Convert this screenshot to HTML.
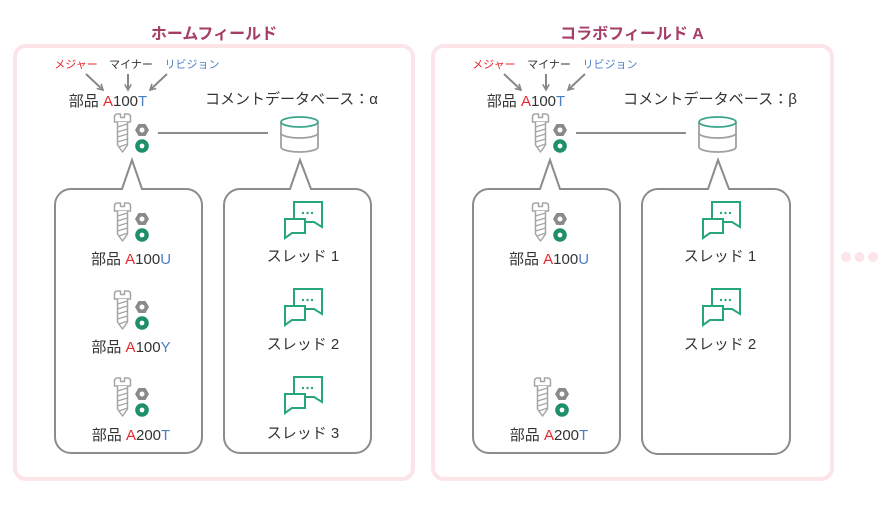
<!DOCTYPE html>
<html><head><meta charset="utf-8"><style>
html,body{margin:0;padding:0;background:#fff;}
svg{display:block;}
text{font-family:"Liberation Sans","Noto Sans CJK JP",sans-serif;}
</style></head><body>
<svg width="891" height="524" viewBox="0 0 891 524" xmlns="http://www.w3.org/2000/svg">
<defs>
  <marker id="ah" viewBox="0 0 10 10" refX="8" refY="5" markerWidth="8" markerHeight="8" markerUnits="userSpaceOnUse" orient="auto">
    <path d="M1,1 L8,5 L1,9" fill="none" stroke="#888" stroke-width="2"/>
  </marker>
  <g id="screw">
    <path d="M0.5,3 Q0.5,0 3.5,0 L6.5,0 L6.5,3.5 L10.5,3.5 L10.5,0 L13.5,0 Q16.5,0 16.5,3 L16.5,8 L0.5,8 Z" fill="#fff" stroke="#a5a5a5" stroke-width="1.5" stroke-linejoin="round"/>
    <path d="M3.5,8 L3.5,31 L8.5,38 L13.5,31 L13.5,8" fill="#fff" stroke="#a5a5a5" stroke-width="1.5" stroke-linejoin="round"/>
    <path d="M3.5,13 L13.5,10 M3.5,18 L13.5,15 M3.5,23 L13.5,20 M3.5,28 L13.5,25 M5,33 L13.5,30" stroke="#a5a5a5" stroke-width="1.3"/>
    <polygon points="35,16 31.5,22 24.5,22 21,16 24.5,10 31.5,10" fill="#8a8a8a"/>
    <circle cx="28" cy="16" r="2.5" fill="#fff"/>
    <circle cx="28" cy="32" r="6.8" fill="#1e8f68"/>
    <circle cx="28" cy="32" r="2.4" fill="#fff"/>
  </g>
  <g id="chat" fill="#fff" stroke="#27a67c" stroke-width="2" stroke-linejoin="miter">
    <path d="M10,17 L10,0 L38,0 L38,25 L30,20 L21,20"/>
    <path d="M1,17 L21,17 L21,31 L8,31 L1,36 Z"/>
    <circle cx="19" cy="11" r="1.2" fill="#27a67c" stroke="none"/>
    <circle cx="23.5" cy="11" r="1.2" fill="#27a67c" stroke="none"/>
    <circle cx="28" cy="11" r="1.2" fill="#27a67c" stroke="none"/>
  </g>
  <g id="db" fill="none" stroke-width="1.8">
    <path d="M0,5 L0,30 A18.5,5 0 0 0 37,30 L37,5" stroke="#a0a0a0" fill="#fff"/>
    <path d="M0,16 A18.5,5 0 0 0 37,16" stroke="#a0a0a0"/>
    <ellipse cx="18.5" cy="5" rx="18.5" ry="5" stroke="#3aa58a" fill="#fff"/>
  </g>
</defs>

<!-- Outer boxes -->
<rect x="15" y="46" width="398" height="433" rx="11" fill="#fff" stroke="#fce4e8" stroke-width="4"/>
<rect x="433" y="46" width="399" height="433" rx="11" fill="#fff" stroke="#fce4e8" stroke-width="4"/>

<!-- Titles -->
<text x="214" y="39" text-anchor="middle" font-size="16" font-weight="bold" fill="#a53e66">ホームフィールド</text>
<text x="632" y="39" text-anchor="middle" font-size="16" font-weight="bold" fill="#a53e66">コラボフィールド A</text>

<!-- Dots -->
<circle cx="846" cy="257" r="5" fill="#fce4e8"/>
<circle cx="859.5" cy="257" r="5" fill="#fce4e8"/>
<circle cx="873" cy="257" r="5" fill="#fce4e8"/>

<!-- ===== Field 1 ===== -->
<g>
  <text x="76" y="68" text-anchor="middle" font-size="11" fill="#e8262c">メジャー</text>
  <text x="131" y="68" text-anchor="middle" font-size="11" fill="#333">マイナー</text>
  <text x="192" y="68" text-anchor="middle" font-size="11" fill="#4b7fc4">リビジョン</text>
  <line x1="86" y1="74" x2="103" y2="90" stroke="#888" stroke-width="2" marker-end="url(#ah)"/>
  <line x1="128" y1="74" x2="128" y2="90" stroke="#888" stroke-width="2" marker-end="url(#ah)"/>
  <line x1="167" y1="74" x2="150" y2="90" stroke="#888" stroke-width="2" marker-end="url(#ah)"/>
  <text x="108" y="106" text-anchor="middle" font-size="15" fill="#333">部品 <tspan fill="#e8262c">A</tspan>100<tspan fill="#4b7fc4">T</tspan></text>
  <use href="#screw" x="114" y="114"/>
  <line x1="158" y1="133" x2="268" y2="133" stroke="#8c8c8c" stroke-width="2"/>
  <use href="#db" x="281" y="117"/>
  <text x="205" y="104" font-size="15" fill="#333" textLength="173" lengthAdjust="spacingAndGlyphs">コメントデータベース：α</text>

  <path d="M122,189 L132,160 L142,189 L186,189 A16,16 0 0 1 202,205 L202,437 A16,16 0 0 1 186,453 L71,453 A16,16 0 0 1 55,437 L55,205 A16,16 0 0 1 71,189 Z" fill="none" stroke="#8c8c8c" stroke-width="2" stroke-linejoin="miter"/>
  <path d="M290,189 L300,160 L311,189 L355,189 A16,16 0 0 1 371,205 L371,437 A16,16 0 0 1 355,453 L240,453 A16,16 0 0 1 224,437 L224,205 A16,16 0 0 1 240,189 Z" fill="none" stroke="#8c8c8c" stroke-width="2" stroke-linejoin="miter"/>

  <use href="#screw" x="114" y="203"/>
  <text x="131" y="264" text-anchor="middle" font-size="15" fill="#333">部品 <tspan fill="#e8262c">A</tspan>100<tspan fill="#4b7fc4">U</tspan></text>
  <use href="#screw" x="114" y="291"/>
  <text x="131" y="352" text-anchor="middle" font-size="15" fill="#333">部品 <tspan fill="#e8262c">A</tspan>100<tspan fill="#4b7fc4">Y</tspan></text>
  <use href="#screw" x="114" y="378"/>
  <text x="131" y="440" text-anchor="middle" font-size="15" fill="#333">部品 <tspan fill="#e8262c">A</tspan>200<tspan fill="#4b7fc4">T</tspan></text>

  <use href="#chat" x="284" y="202"/>
  <text x="303" y="261" text-anchor="middle" font-size="15" fill="#333">スレッド 1</text>
  <use href="#chat" x="284" y="289"/>
  <text x="303" y="349" text-anchor="middle" font-size="15" fill="#333">スレッド 2</text>
  <use href="#chat" x="284" y="377"/>
  <text x="303" y="438" text-anchor="middle" font-size="15" fill="#333">スレッド 3</text>
</g>

<!-- ===== Field 2 ===== -->
<g>
  <text x="494" y="68" text-anchor="middle" font-size="11" fill="#e8262c">メジャー</text>
  <text x="549" y="68" text-anchor="middle" font-size="11" fill="#333">マイナー</text>
  <text x="610" y="68" text-anchor="middle" font-size="11" fill="#4b7fc4">リビジョン</text>
  <line x1="504" y1="74" x2="521" y2="90" stroke="#888" stroke-width="2" marker-end="url(#ah)"/>
  <line x1="546" y1="74" x2="546" y2="90" stroke="#888" stroke-width="2" marker-end="url(#ah)"/>
  <line x1="585" y1="74" x2="568" y2="90" stroke="#888" stroke-width="2" marker-end="url(#ah)"/>
  <text x="526" y="106" text-anchor="middle" font-size="15" fill="#333">部品 <tspan fill="#e8262c">A</tspan>100<tspan fill="#4b7fc4">T</tspan></text>
  <use href="#screw" x="532" y="114"/>
  <line x1="576" y1="133" x2="686" y2="133" stroke="#8c8c8c" stroke-width="2"/>
  <use href="#db" x="699" y="117"/>
  <text x="623" y="104" font-size="15" fill="#333" textLength="174" lengthAdjust="spacingAndGlyphs">コメントデータベース：β</text>

  <path d="M540,189 L550,160 L560,189 L604,189 A16,16 0 0 1 620,205 L620,437 A16,16 0 0 1 604,453 L489,453 A16,16 0 0 1 473,437 L473,205 A16,16 0 0 1 489,189 Z" fill="none" stroke="#8c8c8c" stroke-width="2" stroke-linejoin="miter"/>
  <path d="M708,189 L718,160 L729,189 L774,189 A16,16 0 0 1 790,205 L790,438 A16,16 0 0 1 774,454 L658,454 A16,16 0 0 1 642,438 L642,205 A16,16 0 0 1 658,189 Z" fill="none" stroke="#8c8c8c" stroke-width="2" stroke-linejoin="miter"/>

  <use href="#screw" x="532" y="203"/>
  <text x="549" y="264" text-anchor="middle" font-size="15" fill="#333">部品 <tspan fill="#e8262c">A</tspan>100<tspan fill="#4b7fc4">U</tspan></text>
  <use href="#screw" x="534" y="378"/>
  <text x="549" y="440" text-anchor="middle" font-size="15" fill="#333">部品 <tspan fill="#e8262c">A</tspan>200<tspan fill="#4b7fc4">T</tspan></text>

  <use href="#chat" x="702" y="202"/>
  <text x="720" y="261" text-anchor="middle" font-size="15" fill="#333">スレッド 1</text>
  <use href="#chat" x="702" y="289"/>
  <text x="720" y="349" text-anchor="middle" font-size="15" fill="#333">スレッド 2</text>
</g>
</svg>
</body></html>
